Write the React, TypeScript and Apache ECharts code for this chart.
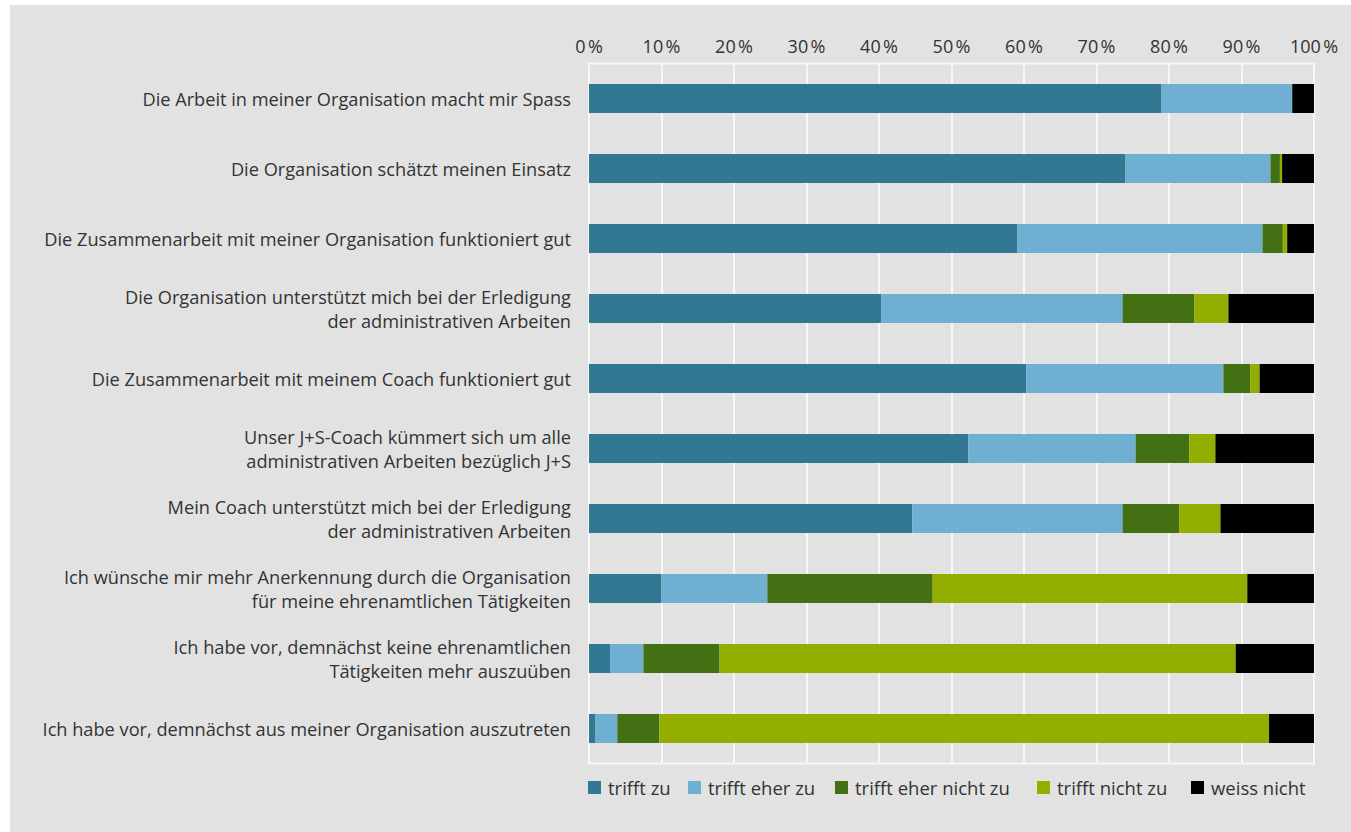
import React, { useEffect, useRef } from "react";
import * as echarts from "echarts";

const categories = [
  "Die Arbeit in meiner Organisation macht mir Spass",
  "Die Organisation schätzt meinen Einsatz",
  "Die Zusammenarbeit mit meiner Organisation funktioniert gut",
  "Die Organisation unterstützt mich bei der Erledigung\nder administrativen Arbeiten",
  "Die Zusammenarbeit mit meinem Coach funktioniert gut",
  "Unser J+S-Coach kümmert sich um alle\nadministrativen Arbeiten bezüglich J+S",
  "Mein Coach unterstützt mich bei der Erledigung\nder administrativen Arbeiten",
  "Ich wünsche mir mehr Anerkennung durch die Organisation\nfür meine ehrenamtlichen Tätigkeiten",
  "Ich habe vor, demnächst keine ehrenamtlichen\nTätigkeiten mehr auszuüben",
  "Ich habe vor, demnächst aus meiner Organisation auszutreten",
];

const seriesNames = ["trifft zu", "trifft eher zu", "trifft eher nicht zu", "trifft nicht zu", "weiss nicht"];
const seriesColors = ["#337893", "#6fb0d2", "#447014", "#93ad00", "#000000"];

const triffZu = [78.9, 74.0, 59.1, 40.3, 60.3, 52.3, 44.6, 10.0, 2.9, 0.9];
const trifftEherZu = [18.1, 20.0, 33.8, 33.3, 27.2, 23.1, 29.0, 14.6, 4.6, 3.0];
const trifftEherNichtZu = [0, 1.3, 2.8, 9.9, 3.7, 7.4, 7.8, 22.8, 10.5, 5.8];
const trifftNichtZu = [0, 0.3, 0.6, 4.7, 1.3, 3.6, 5.7, 43.4, 71.2, 84.1];
const weissNicht = [3.0, 4.4, 3.7, 11.8, 7.5, 13.6, 12.9, 9.2, 10.8, 6.2];

const seriesValues = [triffZu, trifftEherZu, trifftEherNichtZu, trifftNichtZu, weissNicht];
const legendLefts = [588, 688, 835, 1037, 1191];

const FONT = "Open Sans";
const TEXT = "#333333";

export default function App() {
  const ref = useRef<HTMLDivElement>(null);
  useEffect(() => {
    if (!ref.current) return;
    const chart = echarts.init(ref.current, null, { renderer: "svg" });
    chart.setOption({
      animation: false,
      backgroundColor: "#ffffff",
      textStyle: { fontFamily: FONT },
      graphic: [
        {
          type: "rect",
          z: -10,
          shape: { x: 10, y: 5, width: 1341, height: 827 },
          style: { fill: "#e2e2e2" },
        },
      ],
      grid: {
        left: 589,
        right: 37,
        top: 63.5,
        height: 700,
        show: true,
        borderColor: "#f7f7f7",
        borderWidth: 2,
        backgroundColor: "transparent",
      },
      xAxis: {
        type: "value",
        position: "top",
        min: 0,
        max: 100,
        interval: 10,
        axisLine: { show: false },
        axisTick: { show: false },
        splitLine: { show: true, lineStyle: { color: "#f7f7f7", width: 2 } },
        axisLabel: {
          formatter: (v: number) => v + "\u202F%",
          color: TEXT,
          fontSize: 18,
          fontFamily: FONT,
          margin: 9,
        },
      },
      yAxis: {
        type: "category",
        inverse: true,
        data: categories,
        axisLine: { show: false },
        axisTick: { show: false },
        splitLine: { show: false },
        axisLabel: {
          color: TEXT,
          fontSize: 18.2,
          fontFamily: FONT,
          lineHeight: 24,
          margin: 18,
          align: "right",
        },
      },
      legend: seriesNames.map((name, i) => ({
        data: [name],
        left: legendLefts[i],
        top: 778,
        itemWidth: 13,
        itemHeight: 13,
        itemGap: 0,
        icon: "rect",
        textStyle: { color: TEXT, fontSize: 18.5, fontFamily: FONT, padding: [0, 0, 0, 2] },
        padding: 0,
      })),
      series: seriesNames.map((name, i) => ({
        name,
        type: "bar",
        stack: "total",
        barWidth: 29,
        data: seriesValues[i],
        itemStyle: { color: seriesColors[i] },
      })),
    });
    return () => chart.dispose();
  }, []);
  return (
    <div
      ref={ref}
      style={{ position: "absolute", left: 0, top: 0, width: 1351, height: 832 }}
    />
  );
}
